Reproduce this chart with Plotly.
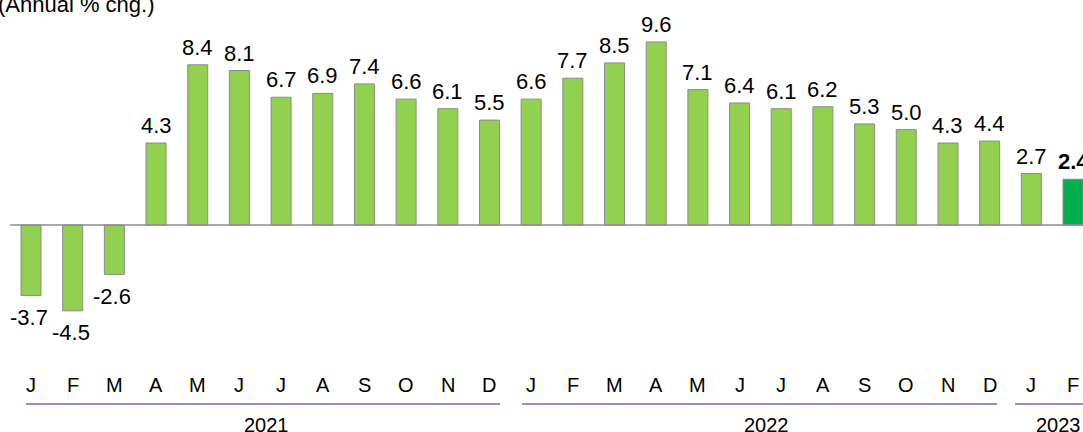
import plotly.graph_objects as go

months = ["J","F","M","A","M","J","J","A","S","O","N","D",
          "J","F","M","A","M","J","J","A","S","O","N","D",
          "J","F"]
values = [-3.7,-4.5,-2.6,4.3,8.4,8.1,6.7,6.9,7.4,6.6,6.1,5.5,
          6.6,7.7,8.5,9.6,7.1,6.4,6.1,6.2,5.3,5.0,4.3,4.4,
          2.7,2.4]
years = ["2021","2022","2023"]
year_spans = [(0,11),(12,23),(24,25)]
title = "(Annual % cng.)"

# layout (pixel geometry)
W, H = 1083, 432
x0px, step = 31.0, 41.68
zero_px, ppu = 225.0, 19.07
xr = [-x0px/step, (W - x0px)/step]
yr = [-(H - zero_px)/ppu, zero_px/ppu]
line_ext = [(-0.12, 11.25), (11.78, 23.18), (23.61, 30.0)]

xs = list(range(len(values)))
colors = ["#92D050"]*(len(values)-1) + ["#00B050"]

fig = go.Figure()
fig.add_trace(go.Bar(x=xs, y=values, width=0.48,
                     marker=dict(color=colors, line=dict(color="#8C8C8C", width=1)),
                     hoverinfo="skip"))

fam = "Liberation Sans, Arial, sans-serif"
vfont = dict(family=fam, size=22, color="#000000")
afont = dict(family=fam, size=20, color="#000000")
ann = []
for i, v in enumerate(values):
    bold = (i == len(values)-1)
    ann.append(dict(x=i, y=v, xref="x", yref="y", text=(f"<b>{v:.1f}</b>" if bold else f"{v:.1f}"),
                    showarrow=False, yanchor="bottom" if v >= 0 else "top",
                    yshift=3 if v >= 0 else -7, xshift=(-2 if v < 0 else 0), font=vfont))
for i, m in enumerate(months):
    ann.append(dict(x=i, y=1 - 385/H, xref="x", yref="paper", text=m, showarrow=False,
                    yanchor="middle", font=afont))
shapes = [dict(type="line", xref="x", yref="y", x0=-0.5, x1=xr[1]+1, y0=0, y1=0,
               line=dict(color="#8C8C8C", width=1.3), layer="above")]
for yname, (a, b), (xa, xb) in zip(years, year_spans, line_ext):
    shapes.append(dict(type="line", xref="x", yref="paper", x0=xa, x1=xb,
                       y0=1 - 404/H, y1=1 - 404/H, line=dict(color="#6B6BC0", width=1.5)))
    ann.append(dict(x=(a + b)/2 + 0.15, y=1 - 425/H, xref="x", yref="paper", text=yname,
                    showarrow=False, yanchor="middle", font=afont))
ann.append(dict(x=0, y=1 - 4/H, xref="paper", yref="paper", text=title, showarrow=False,
                xanchor="left", yanchor="middle", xshift=-4, font=vfont))

fig.update_layout(width=W, height=H, margin=dict(l=0, r=0, t=0, b=0),
                  plot_bgcolor="white", paper_bgcolor="white", showlegend=False,
                  xaxis=dict(range=xr, visible=False, fixedrange=True),
                  yaxis=dict(range=yr, visible=False, fixedrange=True),
                  annotations=ann, shapes=shapes)
fig.write_html("out.html", config={"displayModeBar": False},
               post_script="document.body.style.margin='0';document.body.style.overflow='hidden';")
